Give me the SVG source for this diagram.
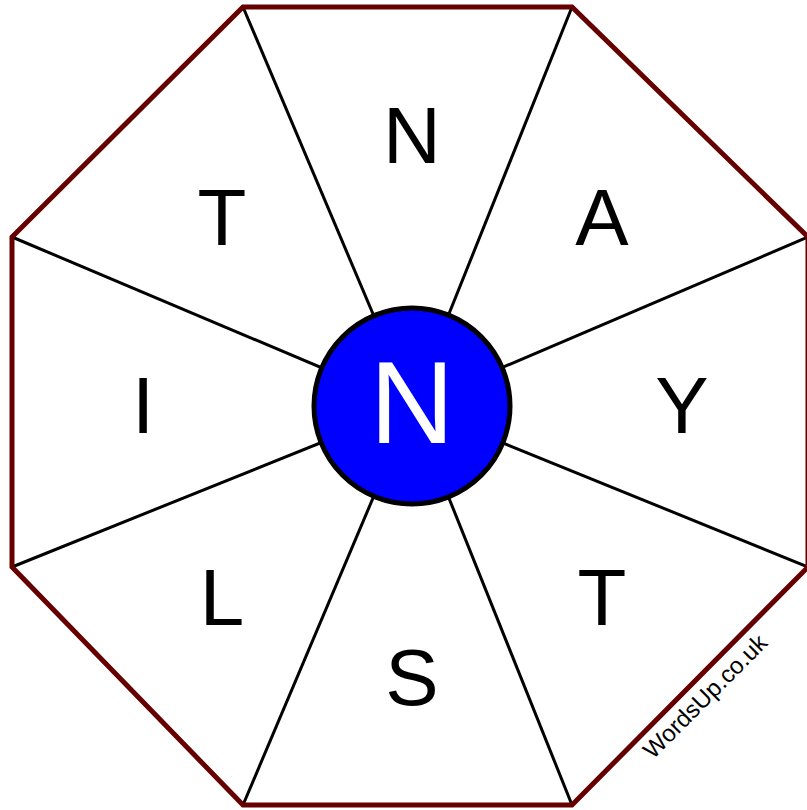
<svg xmlns="http://www.w3.org/2000/svg" width="807" height="810" viewBox="0 0 807 810">
<style>
.spoke{stroke:#000;stroke-width:3;fill:none}
.let{font-family:"Liberation Sans",Arial,sans-serif;font-size:80px;fill:#000;text-anchor:middle}
</style>
<rect width="807" height="810" fill="#fff"/>
<g id="connectors">
<line class="spoke" x1="412" y1="406" x2="243" y2="7"/>
<line class="spoke" x1="412" y1="406" x2="572" y2="7"/>
<line class="spoke" x1="412" y1="406" x2="808" y2="237"/>
<line class="spoke" x1="412" y1="406" x2="808" y2="567"/>
<line class="spoke" x1="412" y1="406" x2="572" y2="805"/>
<line class="spoke" x1="412" y1="406" x2="243" y2="805"/>
<line class="spoke" x1="412" y1="406" x2="12" y2="567"/>
<line class="spoke" x1="412" y1="406" x2="12" y2="237"/>
</g>
<g id="octagon">
<polygon points="243,7 572,7 808,237 808,567 572,805 243,805 12,567 12,237" fill="none" stroke="#660000" stroke-width="5"/>
</g>
<g id="n-top"><text class="let" x="412" y="163">N</text></g>
<g id="a"><text class="let" x="602" y="245">A</text></g>
<g id="y"><text class="let" x="682" y="433">Y</text></g>
<g id="t-right"><text class="let" x="602" y="625">T</text></g>
<g id="s"><text class="let" x="412" y="705">S</text></g>
<g id="l"><text class="let" x="222" y="625">L</text></g>
<g id="i"><text class="let" x="143" y="433">I</text></g>
<g id="t-left"><text class="let" x="222" y="245">T</text></g>
<g id="center">
<circle cx="412" cy="406" r="98" fill="#0000ff" stroke="#000" stroke-width="5"/>
<text x="412" y="443" font-family="Liberation Sans, Arial, sans-serif" font-size="117" fill="#fff" text-anchor="middle">N</text>
</g>
<g id="watermark">
<text transform="translate(653,760) rotate(-45)" font-family="Liberation Sans, Arial, sans-serif" font-size="24" fill="#000">WordsUp.co.uk</text>
</g>
</svg>
